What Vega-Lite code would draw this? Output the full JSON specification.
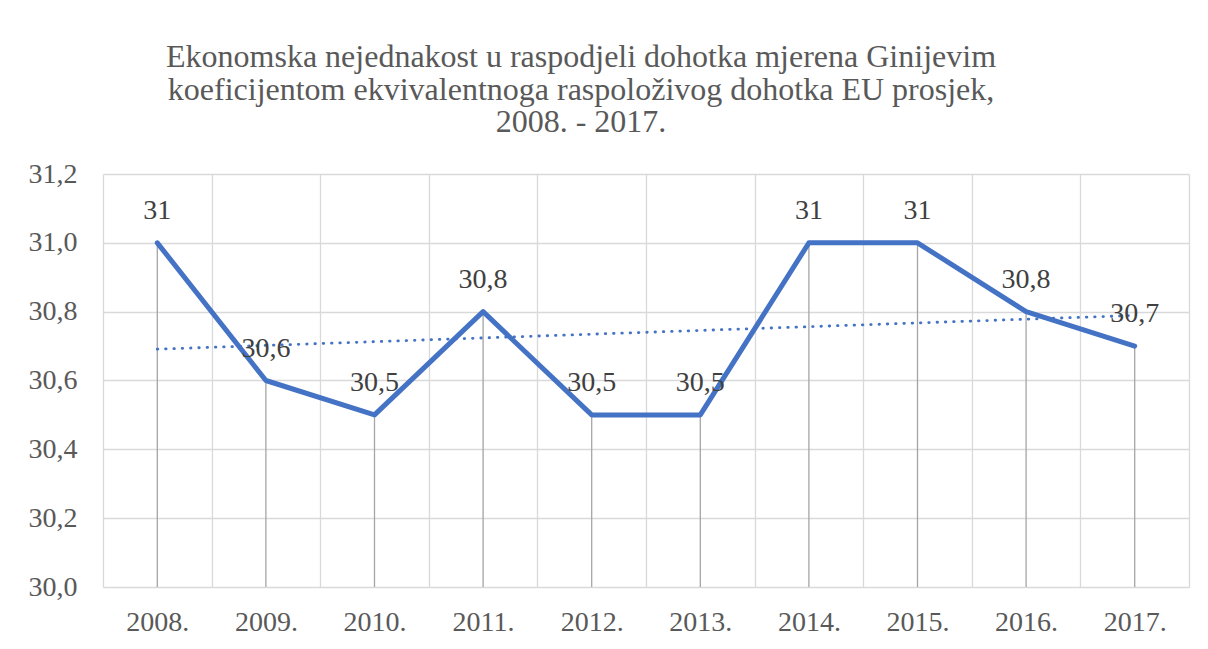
{
  "$schema": "https://vega.github.io/schema/vega-lite/v6.json",
  "autosize": "none",
  "width": 1086,
  "height": 413,
  "padding": {"left": 103, "top": 174, "right": 19, "bottom": 62},
  "background": "white",
  "title": {
    "text": ["Ekonomska nejednakost u raspodjeli dohotka mjerena Ginijevim", "koeficijentom ekvivalentnoga raspoloživog dohotka EU prosjek,", "2008. - 2017."],
    "font": "Liberation Serif",
    "fontSize": 32,
    "fontWeight": "normal",
    "color": "#595959",
    "lineHeight": 32.5,
    "anchor": "middle",
    "frame": "group",
    "dx": -65,
    "offset": 21
  },
  "datasets": {
    "gini": [
      {"year": 2008, "value": 31.0},
      {"year": 2009, "value": 30.6},
      {"year": 2010, "value": 30.5},
      {"year": 2011, "value": 30.8},
      {"year": 2012, "value": 30.5},
      {"year": 2013, "value": 30.5},
      {"year": 2014, "value": 31.0},
      {"year": 2015, "value": 31.0},
      {"year": 2016, "value": 30.8},
      {"year": 2017, "value": 30.7}
    ],
    "trend": [
      {"year": 2008, "trend": 30.691},
      {"year": 2017, "trend": 30.789}
    ]
  },
  "encoding": {
    "x": {
      "field": "year",
      "type": "ordinal",
      "scale": {"type": "band", "paddingInner": 0, "paddingOuter": 0},
      "axis": {
        "title": null,
        "labelAngle": 0,
        "labelExpr": "datum.value ? datum.value + '.' : ''",
        "labelFont": "Liberation Serif",
        "labelFontSize": 28,
        "labelColor": "#595959",
        "labelPadding": 21,
        "ticks": false,
        "domain": false,
        "grid": true,
        "gridColor": "#d9d9d9",
        "gridWidth": 1.3,
        "tickBand": "extent"
      }
    }
  },
  "layer": [
    {
      "data": {"name": "gini"},
      "mark": {"type": "rule", "color": "#a5a5a5", "strokeWidth": 1.3},
      "encoding": {
        "y": {
          "field": "value",
          "type": "quantitative",
          "scale": {"domain": [30, 31.2], "nice": false, "zero": false},
          "axis": {
            "title": null,
            "values": [30, 30.2, 30.4, 30.6, 30.8, 31, 31.2],
            "format": ".1f",
            "labelFont": "Liberation Serif",
            "labelFontSize": 28,
            "labelColor": "#595959",
            "labelPadding": 26,
            "ticks": false,
            "domain": false,
            "grid": true,
            "gridColor": "#d9d9d9",
            "gridWidth": 1.3
          }
        },
        "y2": {"datum": 30}
      }
    },
    {
      "data": {"name": "gini"},
      "mark": {"type": "line", "color": "#4472c4", "strokeWidth": 5, "strokeCap": "round", "strokeJoin": "round"},
      "encoding": {
        "y": {"field": "value", "type": "quantitative"}
      }
    },
    {
      "data": {"name": "trend"},
      "mark": {"type": "line", "color": "#4472c4", "strokeWidth": 2.8, "strokeCap": "round", "strokeDash": [0.5, 7.8]},
      "encoding": {
        "y": {"field": "trend", "type": "quantitative"}
      }
    },
    {
      "data": {"name": "gini"},
      "mark": {"type": "text", "font": "Liberation Serif", "fontSize": 28, "color": "#404040", "baseline": "alphabetic", "align": "center", "dy": -24},
      "encoding": {
        "y": {"field": "value", "type": "quantitative"},
        "text": {"field": "value", "type": "quantitative", "format": ".1~f"}
      }
    }
  ],
  "config": {
    "locale": {
      "number": {"decimal": ",", "thousands": ".", "grouping": [3], "currency": ["", " €"]}
    },
    "view": {"stroke": null}
  }
}
